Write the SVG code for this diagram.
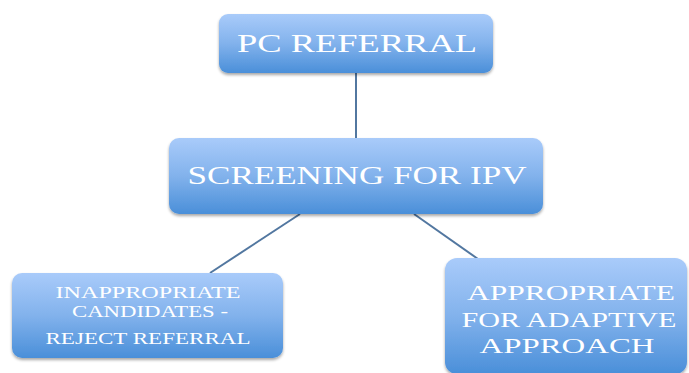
<svg xmlns="http://www.w3.org/2000/svg" width="689" height="373" viewBox="0 0 689 373">
<defs>
<linearGradient id="g" x1="0" y1="0" x2="0" y2="1">
<stop offset="0" stop-color="#a9cbfa"/>
<stop offset="0.5" stop-color="#82b2ec"/>
<stop offset="1" stop-color="#4a8fd9"/>
</linearGradient>
<filter id="sh" x="-10%" y="-10%" width="120%" height="130%">
<feGaussianBlur in="SourceAlpha" stdDeviation="1.5"/>
<feOffset dx="0" dy="2" result="b"/>
<feComponentTransfer><feFuncA type="linear" slope="0.35"/></feComponentTransfer>
<feMerge><feMergeNode/><feMergeNode in="SourceGraphic"/></feMerge>
</filter>
</defs>
<style>
.box{fill:url(#g);filter:url(#sh)}
.t{font-family:"Liberation Serif","Times New Roman",serif;fill:#ffffff;text-anchor:middle}
.c{stroke:#5277a0;stroke-width:2;fill:none}
</style>
<rect width="689" height="373" fill="#ffffff"/>
<g id="connectors">
<line class="c" x1="356" y1="73" x2="356" y2="138"/>
<line class="c" x1="300" y1="214" x2="210" y2="273"/>
<line class="c" x1="414" y1="214" x2="478" y2="259"/>
</g>
<g id="pc-referral">
<rect class="box" x="219" y="14" width="274" height="59" rx="9"/>
<text class="t" x="357" y="52" font-size="25" textLength="240" lengthAdjust="spacingAndGlyphs">PC REFERRAL</text>
</g>
<g id="screening">
<rect class="box" x="169" y="138" width="374" height="76" rx="10"/>
<text class="t" x="357" y="184" font-size="26" textLength="339" lengthAdjust="spacingAndGlyphs">SCREENING FOR IPV</text>
</g>
<g id="inappropriate">
<rect class="box" x="12" y="273" width="271" height="85" rx="10"/>
<text class="t" x="148" y="298" font-size="16.5" textLength="185" lengthAdjust="spacingAndGlyphs">INAPPROPRIATE</text>
<text class="t" x="150" y="317" font-size="16.5" textLength="156" lengthAdjust="spacingAndGlyphs">CANDIDATES -</text>
<text class="t" x="148" y="344" font-size="16.5" textLength="205" lengthAdjust="spacingAndGlyphs">REJECT REFERRAL</text>
</g>
<g id="appropriate">
<rect class="box" x="445" y="258" width="242" height="116" rx="12"/>
<text class="t" x="571" y="300" font-size="22" textLength="208" lengthAdjust="spacingAndGlyphs">APPROPRIATE</text>
<text class="t" x="569" y="327" font-size="22" textLength="215" lengthAdjust="spacingAndGlyphs">FOR ADAPTIVE</text>
<text class="t" x="567" y="353" font-size="22" textLength="175" lengthAdjust="spacingAndGlyphs">APPROACH</text>
</g>
</svg>
